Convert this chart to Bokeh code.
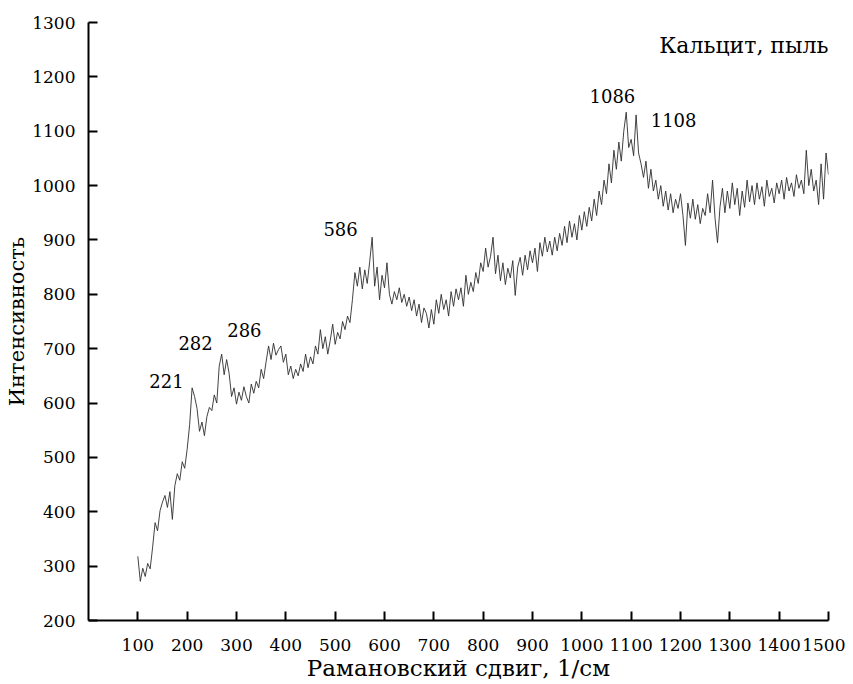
from bokeh.plotting import figure
from bokeh.models import FixedTicker, ColumnDataSource, LabelSet, Label
from bokeh.core.properties import value
from bokeh.embed import file_html
from bokeh.resources import INLINE

# Raman shift grid (1/cm) and intensity
shift = list(range(100, 1501, 5))
intensity = [
    318, 272, 296, 281, 305, 295, 335, 380, 365, 402,
    418, 430, 408, 437, 386, 448, 470, 458, 492, 480,
    515, 560, 628, 612, 590, 548, 565, 540, 575, 592,
    586, 615, 600, 668, 690, 652, 680, 655, 612, 628,
    598, 620, 605, 630, 612, 600, 635, 618, 640, 628,
    662, 645, 676, 705, 680, 710, 688, 698, 705, 675,
    690, 652, 668, 645, 662, 650, 672, 658, 690, 665,
    685, 672, 705, 690, 735, 700, 722, 690, 715, 745,
    708, 730, 718, 750, 735, 760, 748, 790, 840, 815,
    850, 810, 845, 820, 860, 905, 815, 850, 790, 835,
    812, 858, 800, 782, 805, 790, 812, 785, 800, 778,
    795, 770, 790, 760, 782, 748, 775, 765, 738, 772,
    745, 790, 765, 800, 772, 790, 760, 805, 778, 810,
    790, 812, 778, 835, 800, 822, 805, 840, 820, 858,
    842, 885, 850, 870, 905, 838, 872, 825, 858, 818,
    848, 830, 862, 798, 850, 868, 835, 872, 845, 880,
    858, 885, 842, 895, 870, 905, 878, 898, 872, 905,
    880, 912, 890, 925, 895, 935, 905, 930, 900, 945,
    918, 952, 925, 960, 935, 975, 945, 990, 965, 1010,
    985, 1040, 1005, 1065, 1030, 1080, 1045, 1100, 1135, 1070,
    1085, 1055, 1130, 1060, 1040, 1015, 1045, 995, 1030, 990,
    1010, 975, 1000, 962, 990, 955, 985, 950, 975, 958,
    985, 945, 890, 968, 940, 975, 938, 965, 930, 958,
    945, 985, 950, 1010, 940, 895, 960, 995, 950, 990,
    958, 1005, 965, 995, 945, 990, 960, 1010, 970, 1000,
    965, 1005, 975, 998, 962, 1010, 980, 995, 968, 1005,
    985, 1010, 975, 1015, 990, 1005, 980, 1020, 995, 1010,
    985, 1065, 1000, 1030, 990, 1010, 965, 1040, 975, 1060,
    1020,
]

x_ticks = [100, 200, 300, 400, 500, 600, 700, 800, 900, 1000, 1100, 1200, 1300, 1400, 1500]
y_ticks = [200, 300, 400, 500, 600, 700, 800, 900, 1000, 1100, 1200, 1300]

peak_labels = ["221", "282", "286", "586", "1086", "1108"]
peak_label_x = [158, 217, 316, 511, 1062, 1186]
peak_label_y = [640, 711, 735, 921, 1164, 1121]

title_text = "Кальцит, пыль"
x_title = "Рамановский сдвиг, 1/см"
y_title = "Интенсивность"

FONT = "DejaVu Serif"

p = figure(
    frame_width=740, frame_height=598,
    x_range=(0, 1500), y_range=(200, 1300),
    output_backend="svg", toolbar_location=None,
    min_border_left=88, min_border_top=22, min_border_right=17, min_border_bottom=10,
)
p.outline_line_color = None
p.xgrid.visible = False
p.ygrid.visible = False
p.background_fill_color = "white"

p.line(shift, intensity, line_color="#2e2e2e", line_width=0.9)

for ax in (p.xaxis[0], p.yaxis[0]):
    ax.axis_line_width = 2
    ax.axis_line_color = "black"
    ax.major_tick_line_width = 2
    ax.major_tick_line_color = "black"
    ax.major_tick_in = 9
    ax.major_tick_out = 0
    ax.minor_tick_line_color = None
    ax.major_label_text_font = FONT
    ax.major_label_text_font_size = "17px"
    ax.major_label_text_color = "black"
    ax.axis_label_text_font = FONT
    ax.axis_label_text_font_style = "normal"
    ax.axis_label_text_color = "black"

p.xaxis[0].axis_label_text_font_size = "23px"
p.yaxis[0].axis_label_text_font_size = "21px"
p.xaxis[0].ticker = FixedTicker(ticks=x_ticks)
p.yaxis[0].ticker = FixedTicker(ticks=y_ticks)
p.xaxis[0].axis_label = x_title
p.yaxis[0].axis_label = y_title
p.xaxis[0].major_label_standoff = 18
p.xaxis[0].axis_label_standoff = 1
p.yaxis[0].major_label_standoff = 13
p.yaxis[0].axis_label_standoff = 0

src = ColumnDataSource(dict(x=peak_label_x, y=peak_label_y, t=peak_labels))
p.add_layout(LabelSet(x="x", y="y", text="t", source=src,
                      text_font=value(FONT), text_font_size=value("18px"),
                      text_color="black",
                      text_align="center", text_baseline="middle"))

p.add_layout(Label(x=1500, y=1258, text=title_text, text_font=FONT,
                   text_font_size="22px", text_color="black",
                   text_align="right", text_baseline="alphabetic"))

open("out.html", "w").write(file_html(p, INLINE))
